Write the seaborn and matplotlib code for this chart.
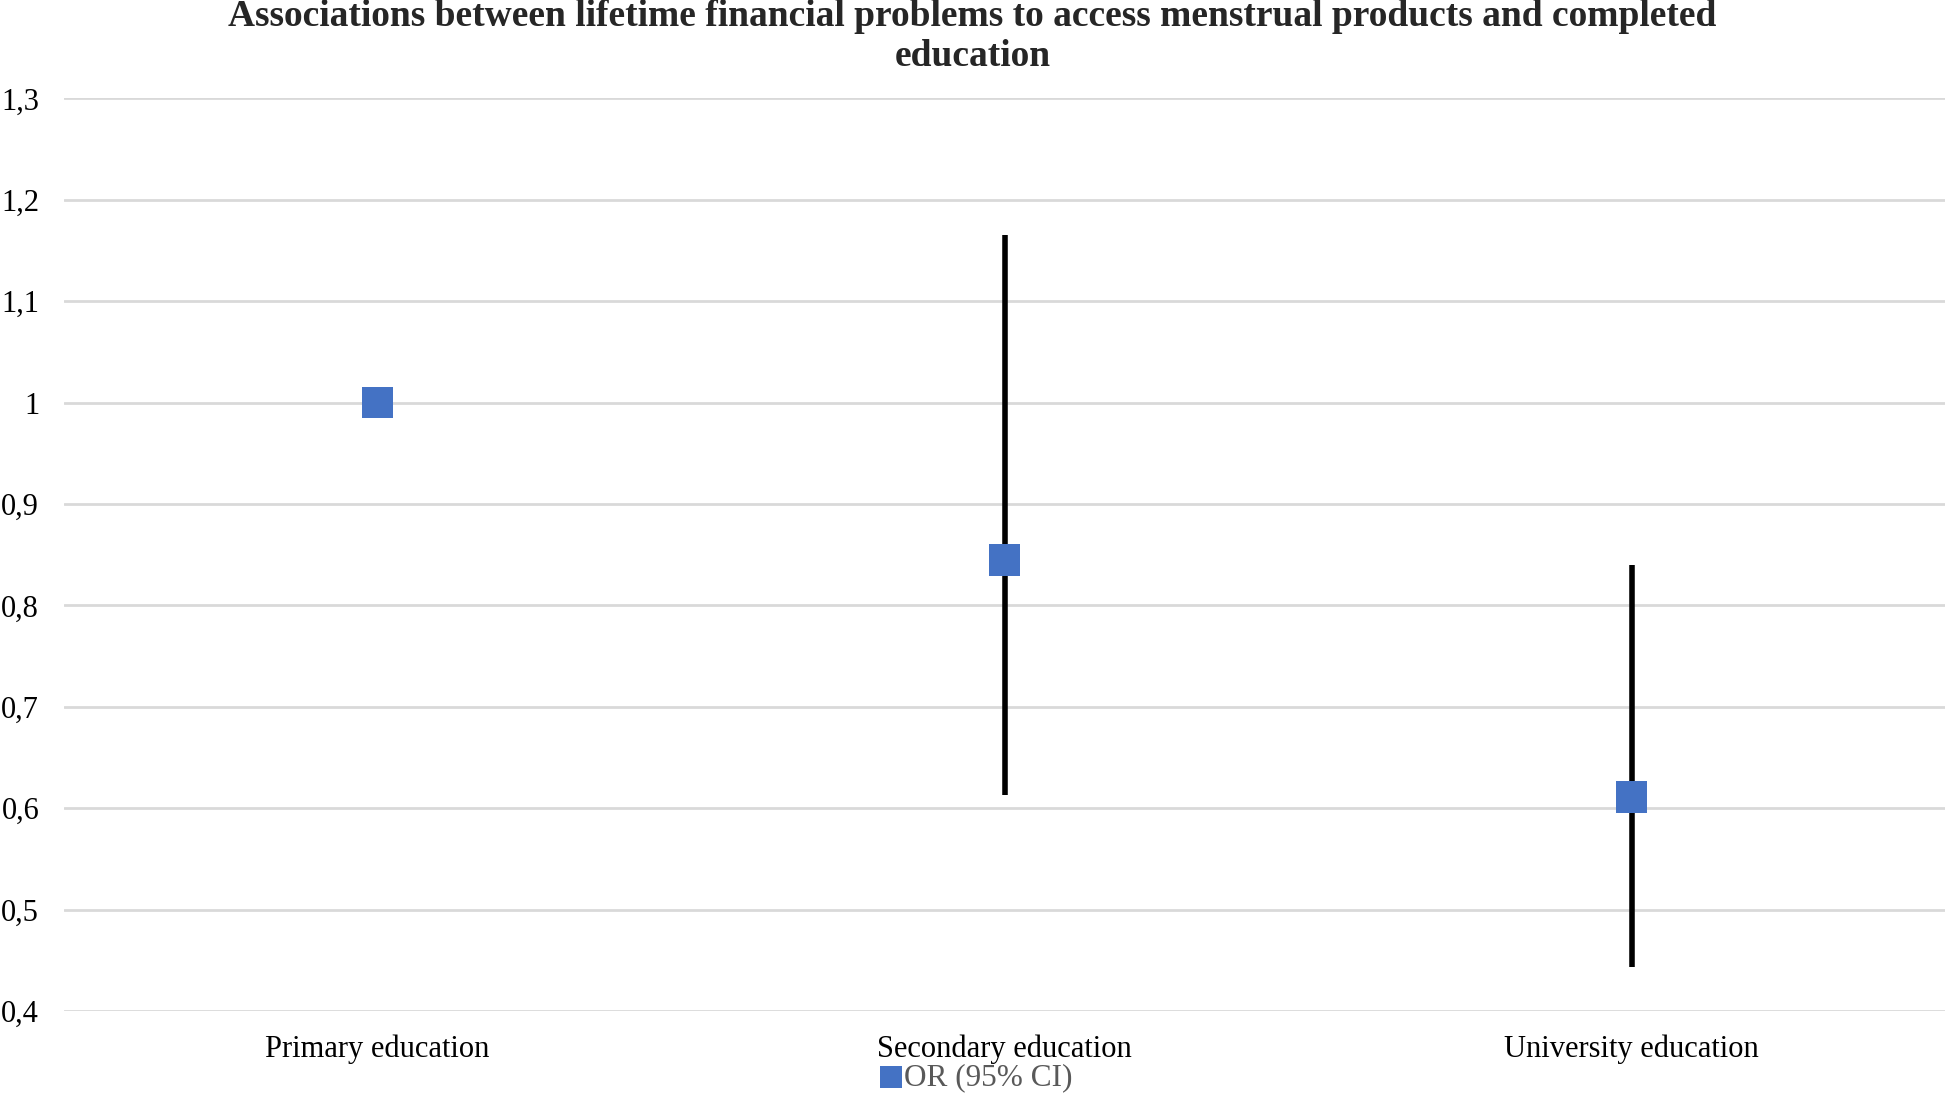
import matplotlib
matplotlib.use("Agg")
import matplotlib.pyplot as plt
import seaborn as sns
import pandas as pd
import numpy as np

categories = ["Primary education", "Secondary education", "University education"]
odds_ratio = [1.0, 0.845, 0.611]
ci_low = [np.nan, 0.613, 0.443]
ci_high = [np.nan, 1.165, 0.840]
y_ticks = [0.4, 0.5, 0.6, 0.7, 0.8, 0.9, 1.0, 1.1, 1.2, 1.3]
y_tick_labels = ["0,4", "0,5", "0,6", "0,7", "0,8", "0,9", "1", "1,1", "1,2", "1,3"]

df = pd.DataFrame({"category": categories, "or": odds_ratio,
                   "lo": ci_low, "hi": ci_high})

sns.set_style("white")
plt.rcParams["font.family"] = ["Liberation Serif", "DejaVu Serif"]

fig = plt.figure(figsize=(19.45, 10.93), dpi=100)
ax = fig.add_axes([0.033, 0.075, 0.967, 0.835])

# confidence intervals
ax.vlines(df["category"], df["lo"], df["hi"], color="black", linewidth=4, zorder=2)

sns.scatterplot(data=df, x="category", y="or", marker="s", s=520, color="#4472C4",
                edgecolor="none", ax=ax, zorder=3, label="OR (95% CI)")

ax.set_xlim(-0.5, 2.5)
ax.set_ylim(0.4, 1.3)
ax.set_yticks(y_ticks)
ax.set_yticklabels(y_tick_labels)
ax.grid(axis="y", color="#d9d9d9", linewidth=2)
ax.set_axisbelow(True)
for s in ax.spines.values():
    s.set_visible(False)
ax.tick_params(axis="both", length=0, labelsize=22, colors="black")
ax.tick_params(axis="x", pad=17)
ax.tick_params(axis="y", pad=18)

ax.set_xlabel("")
ax.set_ylabel("")

fig.suptitle("Associations between lifetime financial problems to access menstrual products and completed\neducation",
             fontsize=27, fontweight="bold", y=1.0005, linespacing=1.17)

leg = ax.legend(loc="lower center", bbox_to_anchor=(0.485, -0.106), frameon=False,
                fontsize=22.5, handletextpad=0.05, handlelength=0.7,
                markerscale=0.7, borderpad=0)
for t in leg.get_texts():
    t.set_color("#595959")

fig.savefig("out.png", dpi=100)
